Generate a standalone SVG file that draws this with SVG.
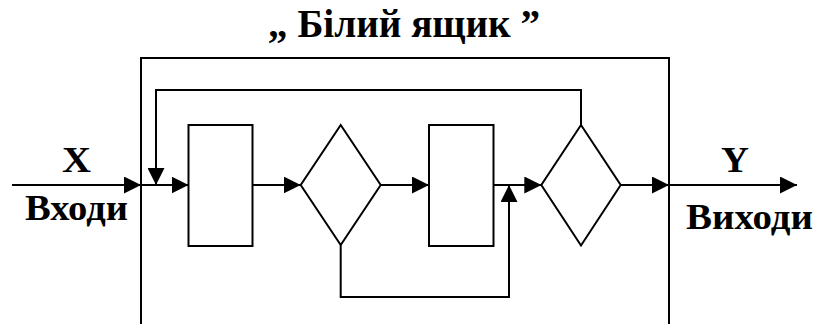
<svg xmlns="http://www.w3.org/2000/svg" width="816" height="324" viewBox="0 0 816 324">
  <style>
    .ln { fill: none; stroke: #000; stroke-width: 2; }
    .shape { fill: #fff; stroke: #000; stroke-width: 2; }
    .t { font-family: "Liberation Serif", "Times New Roman", serif; font-weight: bold; fill: #000; }
    .big { font-size: 39px; }
    .xy { font-size: 35px; }
    .lbl { font-size: 35px; }
  </style>
  <defs>
    <marker id="arr" markerUnits="userSpaceOnUse" markerWidth="17" markerHeight="17" refX="17" refY="8.5" orient="auto">
      <path d="M0,0 L17,8.5 L0,17 z" fill="#000"/>
    </marker>
  </defs>

  <!-- title -->
  <text class="t big" x="268" y="37" textLength="272" lengthAdjust="spacingAndGlyphs">„ Білий ящик ”</text>

  <!-- outer boundary of the box (open at the bottom) -->
  <g id="box">
    <path class="ln" d="M141,324 V58 H669 V324"/>
  </g>

  <g id="block1"><rect class="shape" x="188.5" y="125" width="64" height="121"/></g>
  <g id="decision1"><path class="shape" d="M340.7,125 L380.7,185 L340.7,245 L300.7,185 z"/></g>
  <g id="block2"><rect class="shape" x="429" y="125" width="64.5" height="121"/></g>
  <g id="decision2"><path class="shape" d="M581,125 L620.7,185 L581,245.5 L541.3,185 z"/></g>

  <g id="connectors">
    <line class="ln" x1="12" y1="185" x2="141" y2="185" marker-end="url(#arr)"/>
    <line class="ln" x1="141" y1="185" x2="188.5" y2="185" marker-end="url(#arr)"/>
    <line class="ln" x1="252.5" y1="185" x2="300.7" y2="185" marker-end="url(#arr)"/>
    <line class="ln" x1="380.7" y1="185" x2="429" y2="185" marker-end="url(#arr)"/>
    <line class="ln" x1="493.5" y1="185" x2="541.3" y2="185" marker-end="url(#arr)"/>
    <line class="ln" x1="620.7" y1="185" x2="669" y2="185" marker-end="url(#arr)"/>
    <line class="ln" x1="669" y1="185" x2="797" y2="185" marker-end="url(#arr)"/>
    <!-- feedback from second decision back to the input -->
    <path class="ln" d="M581,125 V90 H156 V185" marker-end="url(#arr)"/>
    <!-- bypass from first decision to the second decision's input -->
    <path class="ln" d="M340.7,245 V297 H509 V185" marker-end="url(#arr)"/>
  </g>

  <!-- labels -->
  <text class="t xy" x="62" y="172" textLength="29" lengthAdjust="spacingAndGlyphs">X</text>
  <text class="t lbl" x="25" y="220" textLength="103" lengthAdjust="spacingAndGlyphs">Входи</text>
  <text class="t xy" x="721" y="172" textLength="28" lengthAdjust="spacingAndGlyphs">Y</text>
  <text class="t lbl" x="686" y="229" textLength="127" lengthAdjust="spacingAndGlyphs">Виходи</text>
</svg>
